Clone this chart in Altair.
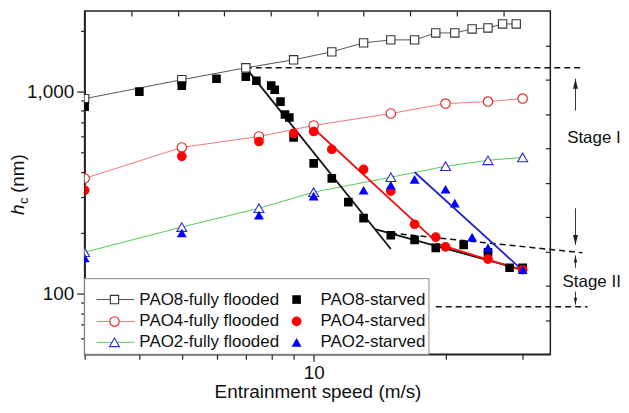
import altair as alt
import pandas as pd

FONT = "Liberation Sans"

# ---------------- data ----------------
speed_pao8_ff = [3, 5, 7, 9, 11, 13, 15, 17, 19, 21, 23, 25, 27, 29]
hc_pao8_ff = [920, 1142, 1308, 1433, 1569, 1738, 1798, 1798, 1946, 1946, 2037, 2060, 2156, 2156]

speed_pao4_ff = [3, 5, 7.5, 10, 15, 20, 25, 30]
hc_pao4_ff = [371, 528, 598, 678, 777, 870, 890, 921]

speed_pao2_ff = [3, 5, 7.5, 10, 15, 20, 25, 30]
hc_pao2_ff = [160, 213, 264, 317, 376, 426, 456, 471]

speed_pao8_st = [3, 4, 5, 6, 7, 7.4, 8, 8.15, 8.4, 8.6, 8.8, 9, 10, 11, 12, 13, 15, 17, 19, 22, 25, 28, 30]
hc_pao8_st = [841, 997, 1067, 1155, 1181, 1129, 1067, 1019, 890, 768, 742, 591, 440, 371, 283, 236, 194, 184, 168, 174, 160, 134, 134]

speed_pao4_st = [3, 5, 7.5, 9, 10, 11, 13, 15, 17, 19, 20, 25, 30]
hc_pao4_st = [324, 477, 565, 619, 633, 516, 411, 321, 220, 190, 170, 148, 131]

speed_pao2_st = [3, 5, 7.5, 10, 13, 15, 17, 20, 21, 23, 25, 30]
hc_pao2_st = [150, 199, 244, 303, 324, 343, 367, 328, 280, 190, 168, 131]

# fitted straight lines (stage I / stage II)
fit_color = ["#111111", "#111111", "#ee1111", "#ee1111", "#2222cc"]
fit_x1 = [7, 13.8, 10, 19, 17]
fit_y1 = [1308, 208, 655, 177, 398]
fit_x2 = [15, 30, 19, 30, 30]
fit_y2 = [166, 131, 181, 130, 130]

# dashed guide lines
dash_x1 = [7, 15, 19]
dash_y1 = [1308, 199, 86]
dash_x2 = [41.3, 41.1, 42.2]
dash_y2 = [1308, 159, 86]

# arrows (x, tail, tip)
arrow_x = 39.6
arrow_tail = [803, 264, 134, 102]
arrow_tip = [1155, 174, 154, 88]
arrow_dir = ["up", "down", "up", "down"]
arrow_big = [True, True, False, False]

stage_labels = ["Stage I", "Stage II"]
stage_x = [37.9, 37.0]
stage_y = [585, 114]

# axis ticks
x_ticks = [3, 4, 5, 6, 7, 8, 9, 10, 20, 30]
y_ticks = [60, 70, 80, 90, 100, 200, 300, 400, 500, 600, 700, 800, 900, 1000, 2000]
top_ticks = [3.83, 4.90, 6.25, 7.98, 10.2, 13.0, 16.6, 21.2, 27.1]
right_ticks = [1689, 1142, 772, 522, 353, 239, 161, 109, 73.8]

legend_labels = ["PAO8-fully flooded", "PAO4-fully flooded", "PAO2-fully flooded",
                 "PAO8-starved", "PAO4-starved", "PAO2-starved"]

# ---------------- scales & axes ----------------
x_scale = alt.Scale(type="log", domain=[3, 34.7], nice=False)
y_scale = alt.Scale(type="log", domain=[50, 2500], nice=False)

common_axis = dict(grid=False, labelFont=FONT, titleFont=FONT, labelFontSize=19,
                   titleFontSize=19, titleFontWeight="normal", domainColor="#222222",
                   domainWidth=1.5, tickColor="#222222", tickWidth=1.2,
                   labelColor="#111111", titleColor="#111111", labelOverlap=False)

axis_bottom = alt.Axis(orient="bottom", values=x_ticks,
                       labelExpr="datum.value == 10 ? '10' : ''",
                       tickSize={"condition": {"test": "datum.value == 10", "value": 7}, "value": 5},
                       title="Entrainment speed (m/s)", titlePadding=0, labelPadding=2,
                       **common_axis)
axis_left = alt.Axis(orient="left", values=y_ticks,
                     labelExpr="datum.value == 100 ? '100' : (datum.value == 1000 ? '1,000' : '')",
                     tickSize={"condition": {"test": "datum.value == 100 || datum.value == 1000", "value": 8}, "value": 4},
                     title=None, labelPadding=3, **common_axis)
axis_top = alt.Axis(orient="top", values=top_ticks, labels=False, title=None, domain=False,
                    tickSize=5, offset=-5, grid=False, tickColor="#222222", tickWidth=1.2)
axis_right = alt.Axis(orient="right", values=right_ticks, labels=False, title=None, domain=False,
                      tickSize=5, offset=-5, grid=False, tickColor="#222222", tickWidth=1.2)


def pts(xv, yv):
    return pd.DataFrame({"speed": xv, "hc": yv})


def X(field="speed", axis=None):
    return alt.X(f"{field}:Q", scale=x_scale, axis=axis)


def Y(field="hc", axis=None):
    return alt.Y(f"{field}:Q", scale=y_scale, axis=axis)


layers = []

ff_sets = [
    (speed_pao8_ff, hc_pao8_ff, "#555555", "#333333", "square", 70),
    (speed_pao4_ff, hc_pao4_ff, "#f07878", "#e02020", "circle", 90),
    (speed_pao2_ff, hc_pao2_ff, "#55cc55", "#2a2ad8", "triangle-up", 100),
]
st_sets = [
    (speed_pao8_st, hc_pao8_st, "#000000", "square", 75),
    (speed_pao4_st, hc_pao4_st, "#ff0000", "circle", 95),
    (speed_pao2_st, hc_pao2_st, "#0000ff", "triangle-up", 100),
]

# thin connecting lines of the fully flooded series (carry the axes)
for i, (sx, sy, lc, mc, shp, sz) in enumerate(ff_sets):
    ax_x = axis_bottom if i == 0 else (axis_top if i == 1 else None)
    ax_y = axis_left if i == 0 else (axis_right if i == 1 else None)
    layers.append(
        alt.Chart(pts(sx, sy)).mark_line(color=lc, strokeWidth=1, clip=True)
        .encode(x=X(axis=ax_x), y=Y(axis=ax_y))
    )

# dashed guide lines
dash_df = pd.DataFrame({"x1": dash_x1, "y1": dash_y1, "x2": dash_x2, "y2": dash_y2})
layers.append(
    alt.Chart(dash_df).mark_rule(color="#111111", strokeWidth=1.5, strokeDash=[6, 4], clip=False)
    .encode(x=X("x1"), y=Y("y1"), x2="x2:Q", y2="y2:Q")
)

# fitted lines
for col in ["#111111", "#ee1111", "#2222cc"]:
    idx = [i for i, c in enumerate(fit_color) if c == col]
    fdf = pd.DataFrame({"x1": [fit_x1[i] for i in idx], "y1": [fit_y1[i] for i in idx],
                        "x2": [fit_x2[i] for i in idx], "y2": [fit_y2[i] for i in idx]})
    layers.append(
        alt.Chart(fdf).mark_rule(color=col, strokeWidth=1.8, clip=True)
        .encode(x=X("x1"), y=Y("y1"), x2="x2:Q", y2="y2:Q")
    )

# open markers
for sx, sy, lc, mc, shp, sz in ff_sets:
    layers.append(
        alt.Chart(pts(sx, sy)).mark_point(shape=shp, size=sz, filled=True, fill="white",
                                          stroke=mc, strokeWidth=1.1, opacity=1, clip=True)
        .encode(x=X(), y=Y())
    )
# filled markers
for sx, sy, c, shp, sz in st_sets:
    layers.append(
        alt.Chart(pts(sx, sy)).mark_point(shape=shp, size=sz, filled=True, color=c,
                                          opacity=1, clip=True)
        .encode(x=X(), y=Y())
    )

# arrows
for d, big in [("up", True), ("down", True), ("up", False), ("down", False)]:
    idx = [i for i in range(len(arrow_tail)) if arrow_dir[i] == d and arrow_big[i] == big]
    adf = pd.DataFrame({"ax": [arrow_x] * len(idx),
                        "tail": [arrow_tail[i] for i in idx],
                        "tip": [arrow_tip[i] for i in idx]})
    layers.append(
        alt.Chart(adf).mark_rule(color="#333333", strokeWidth=1, clip=False)
        .encode(x=X("ax"), y=Y("tail"), y2="tip:Q")
    )
    path = "M0,-1L0.5,1L-0.5,1Z" if d == "up" else "M0,1L0.5,-1L-0.5,-1Z"
    size = 100 if big else 49
    off = (5 if big else 3.5) * (1 if d == "up" else -1)
    layers.append(
        alt.Chart(adf).mark_point(shape=path, size=size, filled=True, color="#222222",
                                  opacity=1, yOffset=off, clip=False)
        .encode(x=X("ax"), y=Y("tip"))
    )

# stage labels
sdf = pd.DataFrame({"sx": stage_x, "sy": stage_y, "label": stage_labels})
layers.append(
    alt.Chart(sdf).mark_text(align="left", baseline="middle", font=FONT, fontSize=17,
                             color="#111111", clip=False)
    .encode(x=X("sx"), y=Y("sy"), text="label:N")
)

# ---------------- legend (drawn by hand) ----------------
one = pd.DataFrame({"k": [0]})
layers.append(
    alt.Chart(one).mark_rect(fill="white", stroke="#8a8a8a", strokeWidth=1, clip=False)
    .encode(x=alt.value(0), x2=alt.value(346), y=alt.value(269), y2=alt.value(345))
)
row_y = [290, 312, 333]
for i, (sx, sy, lc, mc, shp, sz) in enumerate(ff_sets):
    layers.append(
        alt.Chart(one).mark_rule(color=lc, strokeWidth=1)
        .encode(x=alt.value(12), x2=alt.value(50), y=alt.value(row_y[i]))
    )
    layers.append(
        alt.Chart(one).mark_point(shape=shp, size=sz, filled=True, fill="white", stroke=mc,
                                  strokeWidth=1.1, opacity=1)
        .encode(x=alt.value(30), y=alt.value(row_y[i]))
    )
    layers.append(
        alt.Chart(one).mark_text(text=legend_labels[i], align="left", baseline="middle",
                                 font=FONT, fontSize=17, color="#111111")
        .encode(x=alt.value(55), y=alt.value(row_y[i]))
    )
for i, (sx, sy, c, shp, sz) in enumerate(st_sets):
    layers.append(
        alt.Chart(one).mark_point(shape=shp, size=sz, filled=True, color=c, opacity=1)
        .encode(x=alt.value(213), y=alt.value(row_y[i]))
    )
    layers.append(
        alt.Chart(one).mark_text(text=legend_labels[3 + i], align="left", baseline="middle",
                                 font=FONT, fontSize=17, color="#111111")
        .encode(x=alt.value(237), y=alt.value(row_y[i]))
    )

# ---------------- y-axis title: h (italic) + subscript c + (nm) ----------------
layers.append(
    alt.Chart(one).mark_text(text="h", angle=270, align="left", baseline="alphabetic",
                             font=FONT, fontSize=19, fontStyle="italic", color="#111111")
    .encode(x=alt.value(-61), y=alt.value(205))
)
layers.append(
    alt.Chart(one).mark_text(text="c", angle=270, align="left", baseline="alphabetic",
                             font=FONT, fontSize=13, color="#111111")
    .encode(x=alt.value(-57), y=alt.value(194))
)
layers.append(
    alt.Chart(one).mark_text(text="(nm)", angle=270, align="left", baseline="alphabetic",
                             font=FONT, fontSize=19, color="#111111")
    .encode(x=alt.value(-61), y=alt.value(183))
)

chart = (
    alt.layer(*layers)
    .resolve_axis(x="independent", y="independent")
    .properties(width=468, height=345, autosize=alt.AutoSizeParams(type="none"),
                padding={"left": 77, "top": 2, "right": 71, "bottom": 50})
    .configure_view(stroke="#222222", strokeWidth=1.5)
    .configure_axis(grid=False)
)

chart.save("out.html", embed_options={"renderer": "svg", "actions": False})
